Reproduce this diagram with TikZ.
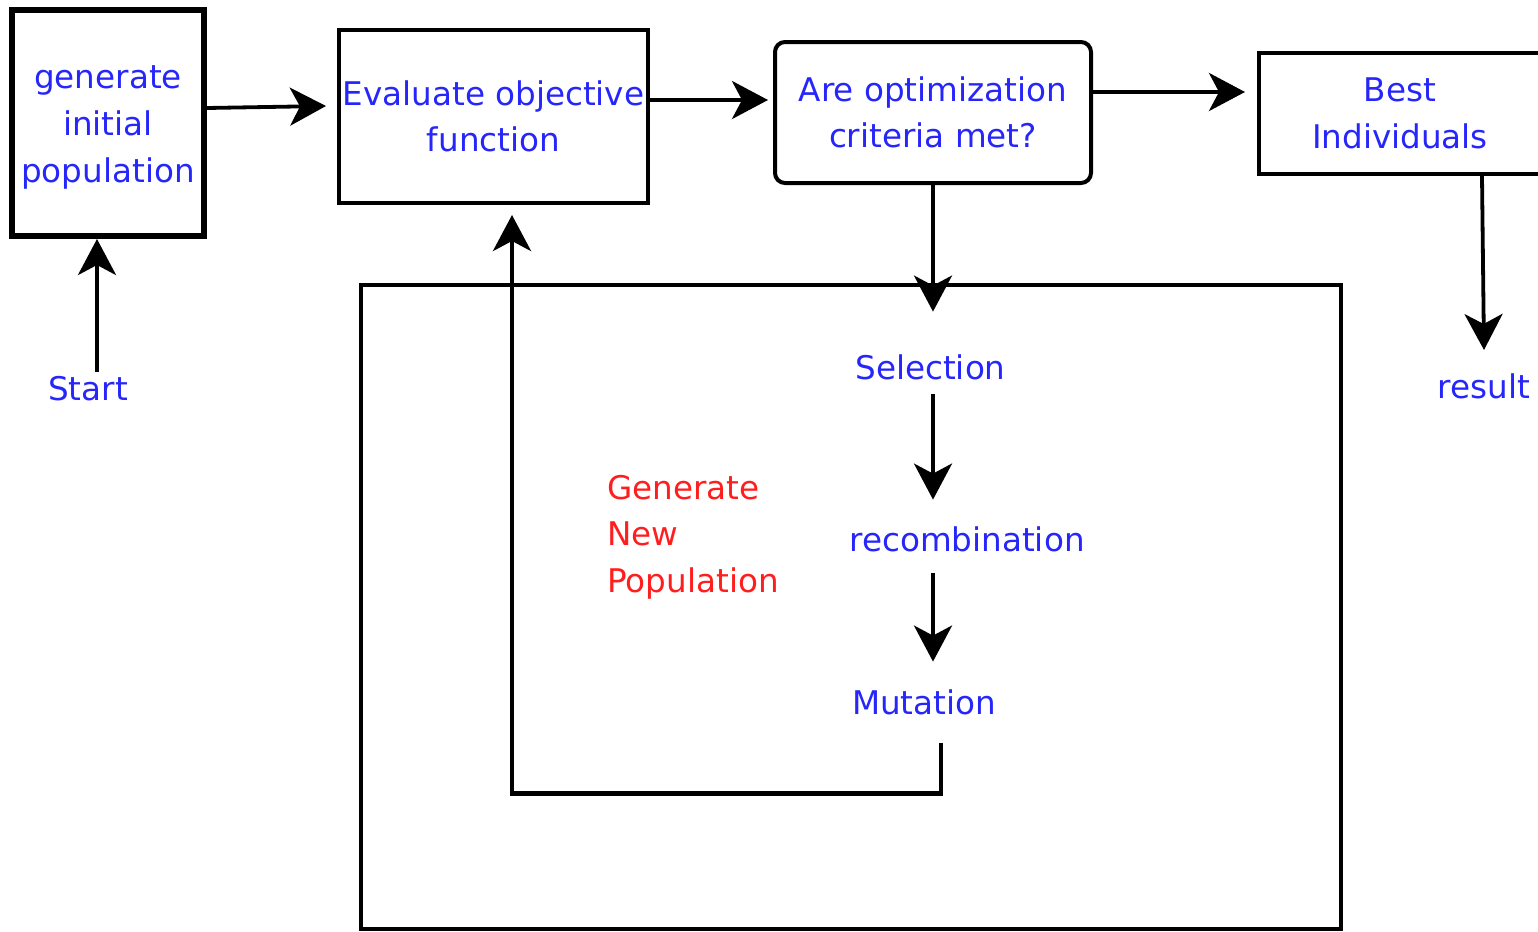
\documentclass[tikz,border=0pt]{standalone}
\usepackage{fontspec}
\setmainfont{DejaVu Sans}
\usetikzlibrary{arrows.meta,calc}
\definecolor{lblblue}{RGB}{38,38,250}
\definecolor{lblred}{RGB}{255,30,30}
\begin{document}
\begin{tikzpicture}[x=0.5pt,y=-0.5pt,
  txt/.style={font=\fontsize{16.3pt}{23.3pt}\selectfont, text=lblblue, inner sep=0pt, align=center},
  box/.style={txt, draw=black, line width=2pt},
  arr/.style={draw=black, line width=1.9pt, -{Stealth[length=18pt,width=19pt,inset=5pt]}},
  flow/.style={draw=black, line width=2.2pt},
]
\useasboundingbox (0,0) rectangle (1538,932);

% main chain of boxes
\node[box, line width=3pt, minimum width=96pt, minimum height=113pt] (b1) at (108,123) {\rule{0pt}{15.9pt}generate\\initial\\population};
\node[box, minimum width=154.5pt, minimum height=86.5pt] (b2) at (493.5,116.5) {Evaluate objective\\function};
\node[box, rounded corners=5pt, minimum width=158pt, minimum height=70.5pt] (b3) at (933,112.5) {Are optimization\\criteria met?};
\node[box, minimum width=141pt, minimum height=60.5pt] (b4) at (1400,113.5) {Best\\Individuals};

% free labels
\node[txt] (start) at (88,389) {Start};
\node[txt] (res) at (1484,386) {result};

% frame around the generation loop
\node[draw=black, line width=2.1pt, minimum width=490pt, minimum height=322pt, inner sep=0pt] (frame) at (851,607) {};
\node[txt] (sel) at (930.5,367.6) {Selection};
\node[txt] (rec) at (967,539.6) {recombination};
\node[txt] (mut) at (924,702.6) {Mutation};
\node[txt, text=lblred, align=left, anchor=west] (gen) at (607,537) {Generate\\New\\Population};

% connectors
\draw[arr] ([xshift=4.5pt,yshift=2pt]start.north) -- ([xshift=-5.5pt]b1.south);
\draw[arr] ([yshift=7.5pt]b1.east) -- ([xshift=-5.5pt,yshift=5.25pt]b2.west);
\draw[arr] ([yshift=8.25pt]b2.east) -- ([xshift=-2.5pt,yshift=6.25pt]b3.west);
\draw[arr] ([yshift=10.25pt]b3.east) -- ([xshift=-6pt,yshift=10.75pt]b4.west);
\draw[arr] ([xshift=41pt]b4.south) -- ([yshift=11.5pt]res.north);
\draw[arr] (b3.south) -- ([yshift=21.5pt]b3.south |- sel.north);
\draw[arr] ([yshift=-6.5pt]b3.south |- sel.south) -- ([yshift=13.5pt]b3.south |- rec.north);
\draw[arr] ([yshift=-10pt]b3.south |- rec.south) -- ([yshift=14pt]b3.south |- mut.north);
\draw[flow, -{Stealth[length=18pt,width=19pt,inset=5pt]}]
  ([xshift=8.5pt,yshift=-13.5pt]mut.south) -- ++(0,51) -| ([xshift=9.25pt,yshift=-5pt]b2.south);
\end{tikzpicture}
\end{document}
